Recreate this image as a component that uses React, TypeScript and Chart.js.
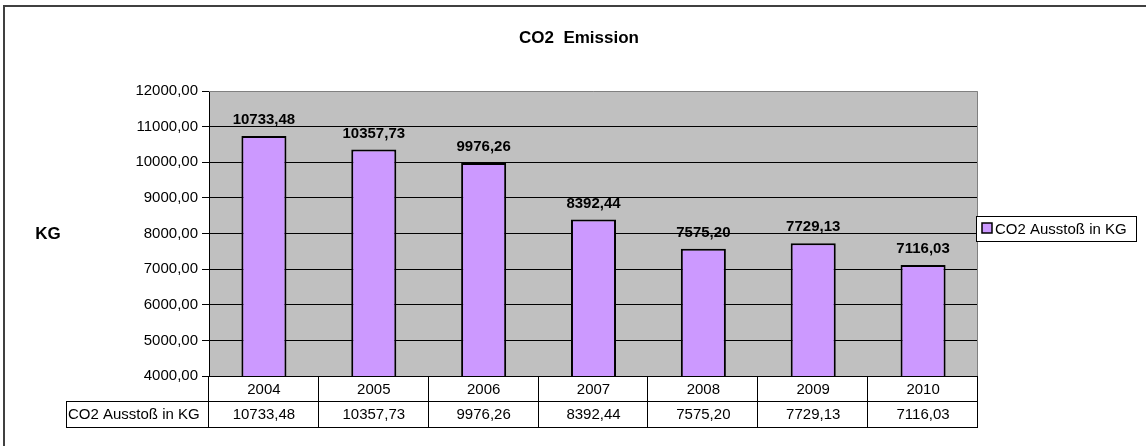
import React, { useEffect, useRef } from "react";
import { Chart, registerables } from "chart.js";

Chart.register(...registerables);

const categories = ["2004", "2005", "2006", "2007", "2008", "2009", "2010"];
const seriesLabel = "CO2 Ausstoß in KG";
const values = [10733.48, 10357.73, 9976.26, 8392.44, 7575.2, 7729.13, 7116.03];
const chartTitle = "CO2  Emission";
const yAxisTitle = "KG";
const yMin = 4000;
const yMax = 12000;
const yStep = 1000;

const FONT = "'Liberation Sans', Arial, sans-serif";
const fmt = (v: number) => v.toFixed(2).replace(".", ",");

const decorPlugin = {
  id: "decor",
  beforeDraw(chart: any) {
    const { ctx, chartArea: a, width, height } = chart;
    ctx.save();
    ctx.fillStyle = "#ffffff";
    ctx.fillRect(0, 0, width, height);
    ctx.fillStyle = "#c0c0c0";
    ctx.fillRect(a.left, a.top, a.right - a.left, a.bottom - a.top);
    ctx.restore();
  },
  afterDraw(chart: any) {
    const { ctx, chartArea: a } = chart;
    const xs = chart.scales.x;
    ctx.save();
    // outer border
    ctx.strokeStyle = "#404040";
    ctx.lineWidth = 2;
    ctx.strokeRect(4, 6, 1200, 500);

    // plot border (top/right gray)
    ctx.lineWidth = 1;
    ctx.strokeStyle = "#808080";
    ctx.beginPath();
    ctx.moveTo(a.left, a.top + 0.5);
    ctx.lineTo(a.right - 0.5, a.top + 0.5);
    ctx.lineTo(a.right - 0.5, a.bottom);
    ctx.stroke();

    // title
    ctx.fillStyle = "#000";
    ctx.textAlign = "center";
    ctx.textBaseline = "middle";
    ctx.font = `bold 17px ${FONT}`;
    ctx.fillText(chartTitle, 579, 38);
    ctx.font = `bold 17px ${FONT}`;
    ctx.fillText(yAxisTitle, 48, 234);

    // data table
    const n = categories.length;
    const edges: number[] = [a.left];
    for (let i = 0; i < n - 1; i++) {
      edges.push((xs.getPixelForValue(i) + xs.getPixelForValue(i + 1)) / 2);
    }
    edges.push(a.right);
    const r0 = a.bottom, r1 = 401, r2 = 427;
    const hdrLeft = 66;
    ctx.strokeStyle = "#000";
    ctx.lineWidth = 1;
    ctx.beginPath();
    ctx.moveTo(a.left, r0 + 0.5);
    ctx.lineTo(a.right, r0 + 0.5);
    ctx.moveTo(hdrLeft, r1 + 0.5);
    ctx.lineTo(a.right, r1 + 0.5);
    ctx.moveTo(hdrLeft, r2 + 0.5);
    ctx.lineTo(a.right, r2 + 0.5);
    ctx.moveTo(hdrLeft + 0.5, r1);
    ctx.lineTo(hdrLeft + 0.5, r2);
    edges.forEach((e, i) => {
      const x = Math.round(e) - 0.5 + (i === 0 ? 0 : 0);
      ctx.moveTo(x, r0);
      ctx.lineTo(x, r2);
    });
    ctx.stroke();

    ctx.font = `15px ${FONT}`;
    ctx.textBaseline = "middle";
    ctx.textAlign = "center";
    categories.forEach((c, i) => {
      const cx = xs.getPixelForValue(i);
      ctx.fillText(c, cx, (r0 + r1) / 2 + 1);
      ctx.fillText(fmt(values[i]), cx, (r1 + r2) / 2 + 1);
    });
    ctx.textAlign = "left";
    ctx.fillText(seriesLabel, hdrLeft + 2, (r1 + r2) / 2 + 1);

    // data labels
    ctx.font = `bold 15px ${FONT}`;
    ctx.textAlign = "center";
    ctx.textBaseline = "alphabetic";
    const meta = chart.getDatasetMeta(0);
    meta.data.forEach((bar: any, i: number) => {
      ctx.fillText(fmt(values[i]), bar.x, bar.y - 12);
    });

    // legend
    const lx = 976, ly = 216, lw = 160, lh = 25;
    ctx.fillStyle = "#fff";
    ctx.fillRect(lx, ly, lw, lh);
    ctx.strokeStyle = "#000";
    ctx.strokeRect(lx + 0.5, ly + 0.5, lw, lh);
    ctx.fillStyle = "#cc99ff";
    ctx.fillRect(982, 223, 10, 10);
    ctx.lineWidth = 1.5;
    ctx.strokeRect(982, 223, 10, 10);
    ctx.fillStyle = "#000";
    ctx.font = `15px ${FONT}`;
    ctx.textAlign = "left";
    ctx.textBaseline = "middle";
    ctx.fillText(seriesLabel, 995, ly + lh / 2 + 1);
    ctx.restore();
  },
};

export default function App() {
  const ref = useRef<HTMLCanvasElement>(null);
  useEffect(() => {
    if (!ref.current) return;
    const chart = new Chart(ref.current, {
      type: "bar",
      data: {
        labels: categories,
        datasets: [
          {
            label: seriesLabel,
            data: values,
            backgroundColor: "#cc99ff",
            borderColor: "#000000",
            borderWidth: 2,
            barPercentage: 0.41,
            categoryPercentage: 1,
          },
        ],
      },
      options: {
        responsive: false,
        animation: false,
        devicePixelRatio: 1,
        layout: { padding: { left: 0, top: 91, right: 168, bottom: 70 } },
        plugins: {
          legend: { display: false },
          title: { display: false },
          tooltip: { enabled: false },
        },
        scales: {
          x: { display: false },
          y: {
            min: yMin,
            max: yMax,
            afterFit: (s: any) => {
              s.width = 209;
            },
            ticks: {
              stepSize: yStep,
              color: "#000",
              padding: 4,
              font: { family: FONT, size: 15 },
              callback: (v: any) => fmt(Number(v)),
            },
            grid: {
              color: (c: any) => (c.tick && c.tick.value === yMax ? "rgba(0,0,0,0)" : "#000"),
              tickColor: "#000",
              tickLength: 7,
              lineWidth: 1,
            },
            border: { color: "#000", width: 1 },
          },
        },
      },
      plugins: [decorPlugin],
    });
    return () => chart.destroy();
  }, []);
  return (
    <div style={{ position: "fixed", left: 0, top: 0, width: 1146, height: 446 }}>
      <canvas ref={ref} width={1146} height={446} />
    </div>
  );
}
